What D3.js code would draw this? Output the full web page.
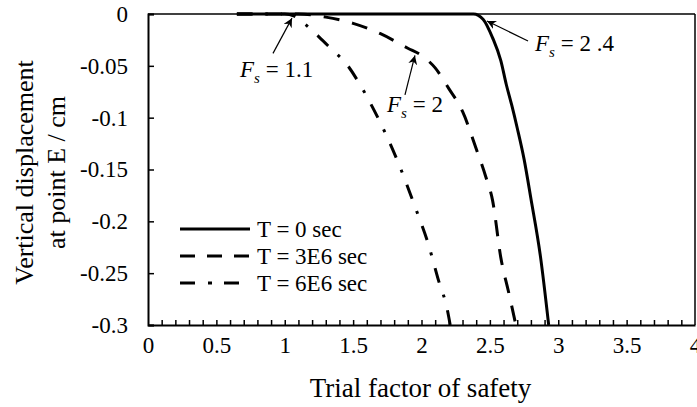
<!DOCTYPE html>
<html>
<head>
<meta charset="utf-8">
<script src="https://cdn.jsdelivr.net/npm/d3@7"></script>
<style>
  body { margin: 0; background: #fff; }
  svg text { font-family: 'Liberation Serif', 'Times New Roman', Times, serif; fill: #000; }
</style>
</head>
<body>
<div class="canvas"></div>
<script>
// ---- data ----
const xTicks = [0, 0.5, 1, 1.5, 2, 2.5, 3, 3.5, 4];
const yTicks = [0, -0.05, -0.1, -0.15, -0.2, -0.25, -0.3];

const fs0 = [0.65, 1.5, 2.0, 2.38, 2.45, 2.52, 2.58, 2.62, 2.66, 2.70, 2.75, 2.80, 2.87, 2.93];
const disp0 = [0, 0, 0, 0, -0.005, -0.023, -0.045, -0.068, -0.088, -0.11, -0.14, -0.178, -0.234, -0.3];

const fs1 = [0.65, 1.1, 1.3, 1.5, 1.7, 1.9, 2.0, 2.1, 2.2, 2.3, 2.4, 2.47, 2.52, 2.58, 2.64, 2.69];
const disp1 = [0, 0, -0.003, -0.009, -0.019, -0.033, -0.04, -0.052, -0.072, -0.094, -0.13, -0.157, -0.18, -0.235, -0.27, -0.3];

const fs2 = [0.65, 1.0, 1.07, 1.15, 1.25, 1.35, 1.45, 1.55, 1.65, 1.75, 1.85, 1.95, 2.05, 2.12, 2.19, 2.21];
const disp2 = [0, 0, -0.002, -0.01, -0.022, -0.035, -0.048, -0.068, -0.092, -0.119, -0.15, -0.185, -0.222, -0.255, -0.286, -0.3];

const seriesNames = ['T = 0 sec', 'T = 3E6 sec', 'T = 6E6 sec'];

// annotations: label value, arrow tip, arrow tail, text anchor (data units)
const noteLabels = ['1.1', '2', '2 .4'];
const noteTip = [[1.053, -0.004], [1.952, -0.040], [2.479, -0.0068]];
const noteTail = [[0.914, -0.038], [1.879, -0.078], [2.779, -0.026]];
const noteText = [[0.673, -0.061], [1.748, -0.095], [2.83, -0.036]];

// ---- layout ----
const width = 697;
const height = 407;
const margin = {top: 14, right: 2, bottom: 82, left: 148};
const graphWidth = width - margin.left - margin.right;
const graphHeight = height - margin.top - margin.bottom;
const serif = 'Liberation Serif';

const svg = d3.select('.canvas')
    .append('svg')
    .attr('width', width)
    .attr('height', height)
    .attr('font-family', serif);

svg.append('defs').append('marker')
    .attr('id', 'arrow')
    .attr('viewBox', '0 0 10 10')
    .attr('refX', 10)
    .attr('refY', 5)
    .attr('markerWidth', 9)
    .attr('markerHeight', 9)
    .attr('markerUnits', 'userSpaceOnUse')
    .attr('orient', 'auto')
    .append('path')
    .attr('d', 'M0,0 L10,5 L0,10 L3,5 Z')
    .attr('fill', '#000');

const graph = svg.append('g')
    .attr('transform', `translate(${margin.left}, ${margin.top})`);

const x = d3.scaleLinear().domain([0, 4]).range([0, graphWidth]);
const y = d3.scaleLinear().domain([-0.3, 0]).range([graphHeight, 0]);

// frame (top / right thin)
graph.append('line')
    .attr('x1', 0).attr('x2', graphWidth).attr('y1', 0).attr('y2', 0)
    .attr('stroke', '#000').attr('stroke-width', 1.5);
graph.append('line')
    .attr('x1', graphWidth).attr('x2', graphWidth).attr('y1', 0).attr('y2', graphHeight)
    .attr('stroke', '#000').attr('stroke-width', 1.5);

////////// AXES ///////////////////
const xAxis = d3.axisBottom(x)
    .tickValues(xTicks)
    .tickSize(0)
    .tickPadding(12)
    .tickFormat(d => d);

const gX = graph.append('g')
    .attr('transform', `translate(0, ${graphHeight})`)
    .call(xAxis);
gX.attr('font-family', serif);
gX.select('.domain').attr('stroke-width', 2);
gX.selectAll('text').style('font-size', '23px');

// minor ticks every 0.1 pointing inwards
const xMinor = d3.axisBottom(x)
    .tickValues(d3.range(1, 40).map(i => i / 10))
    .tickSize(-5)
    .tickFormat('');
const gXm = graph.append('g')
    .attr('transform', `translate(0, ${graphHeight})`)
    .call(xMinor);
gXm.select('.domain').remove();
gXm.selectAll('line').attr('stroke-width', 1.5);

const yAxis = d3.axisLeft(y)
    .tickValues(yTicks)
    .tickSize(-6)
    .tickPadding(20)
    .tickFormat(d => String(d));

const gY = graph.append('g').call(yAxis);
gY.attr('font-family', serif);
gY.select('.domain').attr('stroke-width', 2);
gY.selectAll('line').attr('stroke-width', 1.5);
gY.selectAll('text').style('font-size', '23px');

// axis titles
svg.append('text')
    .attr('x', margin.left + x(2.0) - 1)
    .attr('y', 397)
    .attr('text-anchor', 'middle')
    .style('font-size', '27px')
    .text('Trial factor of safety');

const yTitle = svg.append('text')
    .attr('transform', `translate(0, ${margin.top + graphHeight / 2 + 3}) rotate(-90)`)
    .attr('text-anchor', 'middle')
    .style('font-size', '26px');
yTitle.append('tspan').attr('x', 0).attr('y', 33).text('Vertical displacement');
yTitle.append('tspan').attr('x', 0).attr('y', 65).text('at point E / cm');

////////// CURVES ///////////////////
const dashes = [null, '16,13', '15,13,3,13'];
const series = [
    fs0.map((f, i) => [f, disp0[i]]),
    fs1.map((f, i) => [f, disp1[i]]),
    fs2.map((f, i) => [f, disp2[i]])
];

const line = d3.line()
    .x(d => x(d[0]))
    .y(d => y(d[1]))
    .curve(d3.curveMonotoneX);

graph.selectAll('path.curve')
    .data(series)
    .enter()
    .append('path')
    .attr('class', 'curve')
    .attr('d', line)
    .attr('fill', 'none')
    .attr('stroke', '#000')
    .attr('stroke-width', 3)
    .attr('stroke-dasharray', (d, i) => dashes[i]);

////////// LEGEND ///////////////////
const legendDash = [null, '15,12', '15,13,4,12'];
const legend = svg.append('g').attr('transform', 'translate(180, 229)');
seriesNames.forEach((name, i) => {
    const row = legend.append('g').attr('transform', `translate(0, ${i * 27})`);
    row.append('line')
        .attr('x1', 0).attr('x2', i === 2 ? 60 : 70).attr('y1', 0).attr('y2', 0)
        .attr('stroke', '#000')
        .attr('stroke-width', 3)
        .attr('stroke-dasharray', legendDash[i]);
    row.append('text')
        .attr('x', 77)
        .attr('y', 8)
        .style('font-size', '23px')
        .text(name);
});

////////// ANNOTATIONS ///////////////////
noteLabels.forEach((lab, i) => {
    graph.append('line')
        .attr('x1', x(noteTail[i][0])).attr('y1', y(noteTail[i][1]))
        .attr('x2', x(noteTip[i][0])).attr('y2', y(noteTip[i][1]))
        .attr('stroke', '#000')
        .attr('stroke-width', 1.2)
        .attr('marker-end', 'url(#arrow)');
    const t = graph.append('text')
        .attr('x', x(noteText[i][0]))
        .attr('y', y(noteText[i][1]))
        .style('font-size', '23px');
    t.append('tspan').style('font-style', 'italic').text('F');
    t.append('tspan').style('font-style', 'italic').style('font-size', '15px').attr('dy', 6).text('s');
    t.append('tspan').attr('dy', -6).text(' = ' + lab);
});
</script>
</body>
</html>
